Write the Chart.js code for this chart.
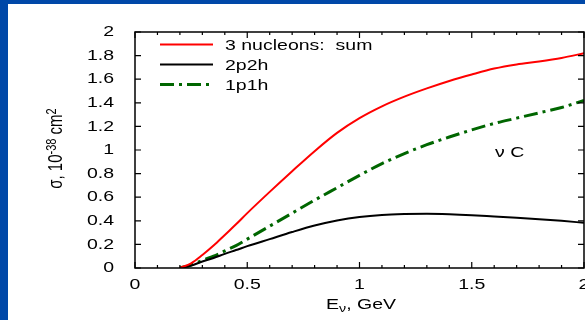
<!DOCTYPE html>
<html>
<head>
<meta charset="utf-8">
<script src="https://cdn.jsdelivr.net/npm/chart.js@4/dist/chart.umd.min.js"></script>
<style>
  html, body { margin: 0; padding: 0; background: #0048a8; }
  canvas { display: block; }
</style>
</head>
<body>
<canvas id="c" width="585" height="320"></canvas>
<script>
// Neutrino energy grid (GeV)
const energy = [0.2, 0.25, 0.3, 0.35, 0.4, 0.45, 0.5, 0.6, 0.7, 0.8, 0.9, 1.0,
                1.1, 1.2, 1.3, 1.4, 1.5, 1.6, 1.7, 1.8, 1.9, 2.0];
// Cross sections, 10^-38 cm^2
const sumNucleons = [0, 0.04, 0.11, 0.19, 0.28, 0.37, 0.465, 0.645, 0.82, 0.99, 1.145, 1.27,
                     1.37, 1.452, 1.522, 1.585, 1.64, 1.69, 1.725, 1.75, 1.78, 1.82];
const twoP2H = [0, 0.02, 0.055, 0.085, 0.12, 0.152, 0.185, 0.245, 0.305, 0.36, 0.403, 0.433,
                0.45, 0.457, 0.459, 0.455, 0.447, 0.436, 0.425, 0.414, 0.40, 0.383];
const oneP1H = [0, 0.025, 0.065, 0.10, 0.145, 0.19, 0.245, 0.355, 0.465, 0.575, 0.68, 0.785,
                0.885, 0.97, 1.045, 1.11, 1.17, 1.225, 1.27, 1.315, 1.36, 1.42];

const seriesNames = ['3 nucleons:  sum', '2p2h', '1p1h'];
const xTicks = [0, 0.5, 1, 1.5, 2];
const yTicks = [0, 0.2, 0.4, 0.6, 0.8, 1, 1.2, 1.4, 1.6, 1.8, 2];
const xMinorStep = 0.1;
const targetLabel = 'ν C';

const FONT = '"Liberation Sans", Arial, Helvetica, sans-serif';
const SX = 1.3; // horizontal widening of all lettering

function widenText(ctx) {
  if (ctx.__widened) return;
  const fill = ctx.fillText;
  ctx.fillText = function (text, x, y, maxWidth) {
    const m = this.getTransform();
    const p = m.transformPoint(new DOMPoint(x, y));
    this.save();
    this.setTransform(new DOMMatrix().translate(p.x, p.y).scale(SX, 1).translate(-p.x, -p.y).multiply(m));
    if (maxWidth === undefined) fill.call(this, text, x, y);
    else fill.call(this, text, x, y, maxWidth);
    this.restore();
  };
  ctx.__widened = true;
}

const toPoints = vals => energy.map((e, i) => ({ x: e, y: vals[i] }));

const panelPlugin = {
  id: 'panel',
  beforeDraw(chart) {
    const ctx = chart.ctx;
    widenText(ctx);
    ctx.save();
    ctx.fillStyle = '#0048a8';
    ctx.fillRect(0, 0, chart.width, chart.height);
    ctx.fillStyle = '#ffffff';
    ctx.fillRect(8, 4, chart.width - 8, chart.height - 4);
    ctx.restore();
  }
};

const framePlugin = {
  id: 'frame',
  afterDraw(chart) {
    const ctx = chart.ctx;
    const a = chart.chartArea;
    const xs = chart.scales.x, ys = chart.scales.y;
    ctx.save();
    ctx.strokeStyle = '#000';
    ctx.lineWidth = 1.5;
    ctx.strokeRect(a.left, a.top, a.right - a.left, a.bottom - a.top);
    ctx.lineWidth = 1.2;
    ctx.beginPath();
    // x ticks, bottom and top, pointing inward
    const nMinor = Math.round((xs.max - xs.min) / xMinorStep);
    for (let i = 0; i <= nMinor; i++) {
      const v = xs.min + i * xMinorStep;
      const px = xs.getPixelForValue(v);
      const major = xTicks.some(t => Math.abs(t - v) < 1e-6);
      const len = major ? 6 : 3;
      ctx.moveTo(px, a.bottom); ctx.lineTo(px, a.bottom - len);
      ctx.moveTo(px, a.top); ctx.lineTo(px, a.top + len);
    }
    // y ticks, left and right
    yTicks.forEach(v => {
      const py = ys.getPixelForValue(v);
      ctx.moveTo(a.left, py); ctx.lineTo(a.left + 6, py);
      ctx.moveTo(a.right, py); ctx.lineTo(a.right - 6, py);
    });
    ctx.stroke();

    // legend
    const rows = [44.5, 64.5, 84.5];
    chart.data.datasets.forEach((ds, i) => {
      ctx.save();
      ctx.strokeStyle = ds.borderColor;
      ctx.lineWidth = ds.borderWidth;
      ctx.setLineDash(ds.borderDash || []);
      ctx.beginPath();
      ctx.moveTo(160, rows[i]); ctx.lineTo(213, rows[i]);
      ctx.stroke();
      ctx.restore();
      ctx.fillStyle = '#000';
      ctx.font = '15px ' + FONT;
      ctx.textAlign = 'left';
      ctx.textBaseline = 'middle';
      ctx.fillText(ds.label, 225, rows[i] + 1);
    });

    // target annotation
    ctx.fillStyle = '#000';
    ctx.font = '15px ' + FONT;
    ctx.textAlign = 'left';
    ctx.textBaseline = 'alphabetic';
    ctx.fillText(targetLabel, xs.getPixelForValue(1.604), ys.getPixelForValue(0.94));

    // x axis title: E_nu, GeV
    ctx.font = '15px ' + FONT;
    const wE = ctx.measureText('E').width * SX;
    ctx.font = '11px ' + FONT;
    const wNu = ctx.measureText('ν').width * SX;
    ctx.font = '15px ' + FONT;
    const wRest = ctx.measureText(', GeV').width * SX;
    const x0 = 361 - (wE + wNu + wRest) / 2;
    const base = 309;
    ctx.fillText('E', x0, base);
    ctx.font = '11px ' + FONT;
    ctx.fillText('ν', x0 + wE, base + 3);
    ctx.font = '15px ' + FONT;
    ctx.fillText(', GeV', x0 + wE + wNu, base);

    // y axis title: sigma, 10^-38 cm^2 (rotated)
    ctx.save();
    ctx.translate(62, 148.5);
    ctx.rotate(-Math.PI / 2);
    const parts = [
      { t: 'σ, 10', f: 15, dy: 0 },
      { t: '-38', f: 11, dy: -6 },
      { t: ' cm', f: 15, dy: 0 },
      { t: '2', f: 11, dy: -6 }
    ];
    let total = 0;
    parts.forEach(p => { ctx.font = p.f + 'px ' + FONT; p.w = ctx.measureText(p.t).width; total += p.w; });
    let cx = -total / 2;
    parts.forEach(p => {
      ctx.font = p.f + 'px ' + FONT;
      ctx.fillText(p.t, cx, p.dy);
      cx += p.w;
    });
    ctx.restore();
    ctx.restore();
  }
};

new Chart(document.getElementById('c'), {
  type: 'line',
  data: {
    datasets: [
      { label: seriesNames[0], data: toPoints(sumNucleons), borderColor: '#ff0000', borderWidth: 2 },
      { label: seriesNames[1], data: toPoints(twoP2H), borderColor: '#000000', borderWidth: 2 },
      { label: seriesNames[2], data: toPoints(oneP1H), borderColor: '#006600', borderWidth: 3, borderDash: [14, 5, 3, 5] }
    ]
  },
  options: {
    responsive: false,
    animation: false,
    devicePixelRatio: 1,
    elements: {
      point: { radius: 0 },
      line: { cubicInterpolationMode: 'monotone', fill: false }
    },
    layout: { padding: { left: 0, top: 32, right: 1, bottom: 0 } },
    plugins: { legend: { display: false }, tooltip: { enabled: false } },
    scales: {
      x: {
        type: 'linear', min: 0, max: 2,
        afterBuildTicks: s => { s.ticks = xTicks.map(v => ({ value: v })); },
        ticks: {
          color: '#000', padding: 0, maxRotation: 0, autoSkip: false,
          font: { family: FONT, size: 15 },
          callback: v => String(Math.round(v * 10) / 10)
        },
        grid: { display: false },
        border: { display: false },
        afterFit: s => { s.height = 52; s.paddingLeft = 0; s.paddingRight = 0; }
      },
      y: {
        type: 'linear', min: 0, max: 2,
        afterBuildTicks: s => { s.ticks = yTicks.map(v => ({ value: v })); },
        ticks: {
          color: '#000', padding: 13, autoSkip: false,
          font: { family: FONT, size: 15 },
          callback: v => String(Math.round(v * 10) / 10)
        },
        grid: { display: false },
        border: { display: false },
        afterFit: s => { s.width = 135; s.paddingTop = 0; s.paddingBottom = 0; }
      }
    }
  },
  plugins: [panelPlugin, framePlugin]
});
</script>
</body>
</html>
